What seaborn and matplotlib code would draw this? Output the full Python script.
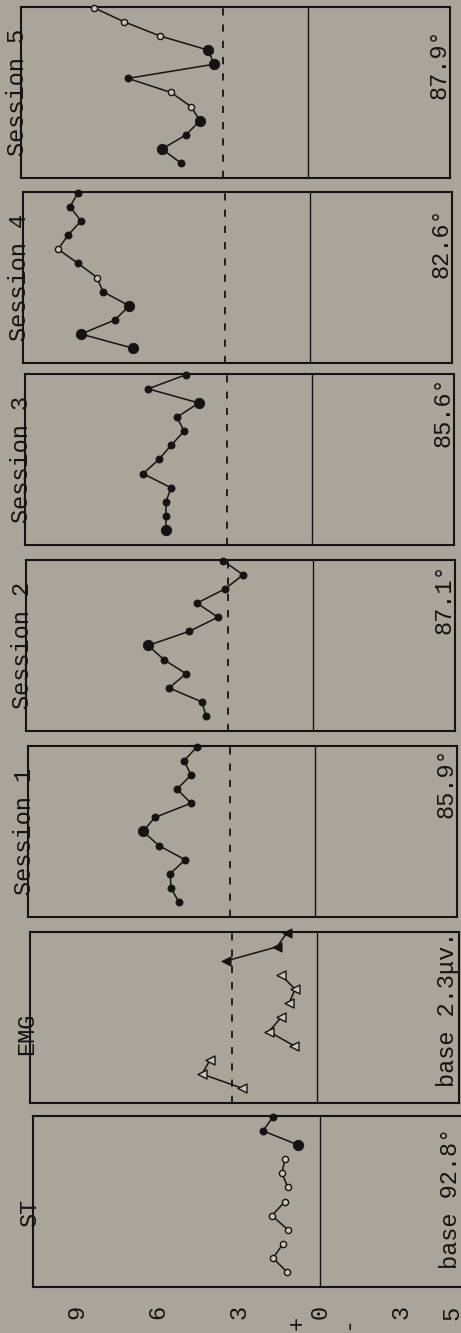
import matplotlib
matplotlib.use("Agg")
import matplotlib.pyplot as plt
import pandas as pd
import seaborn as sns

# ---------------------------------------------------------------- data
trial = list(range(1, 13))

st_values = [1.22, 1.74, 1.37, 1.19, 1.78, 1.30, 1.19, 1.41, 1.30, 0.81, 2.11, 1.74]
st_kind = ["open"] * 9 + ["heavy", "solid", "solid"]
st_block = [1, 1, 1, 2, 2, 2, 3, 3, 3, 4, 4, 4]

emg_values = [2.78, 4.26, 3.96, 0.85, 1.78, 1.33, 1.04, 0.81, 1.33, 3.37, 1.48, 1.11]
emg_kind = ["open"] * 9 + ["solid"] * 3
emg_block = [1, 1, 1, 2, 2, 2, 3, 3, 3, 4, 4, 4]

s1_values = [5.04, 5.33, 5.37, 4.81, 5.78, 6.37, 5.93, 4.59, 5.11, 4.59, 4.85, 4.37]
s1_kind = ["solid"] * 5 + ["heavy"] + ["solid"] * 6

s2_values = [3.96, 4.11, 5.33, 4.70, 5.52, 6.11, 4.59, 3.52, 4.30, 3.26, 2.59, 3.33]
s2_kind = ["solid"] * 5 + ["heavy"] + ["solid"] * 6

s3_values = [5.41, 5.41, 5.41, 5.22, 6.26, 5.67, 5.22, 4.74, 5.00, 4.19, 6.07, 4.67]
s3_kind = ["heavy"] + ["solid"] * 8 + ["heavy", "solid", "solid"]

s4_values = [6.56, 8.48, 7.22, 6.70, 7.67, 7.89, 8.59, 9.33, 8.96, 8.48, 8.89, 8.59]
s4_kind = ["heavy", "heavy", "solid", "heavy", "solid", "open",
           "solid", "open", "solid", "solid", "solid", "solid"]

s5_values = [4.70, 5.41, 4.52, 4.00, 4.33, 5.07, 6.67, 3.48, 3.70, 5.48, 6.81, 7.93]
s5_kind = ["solid", "heavy", "solid", "heavy", "open", "open",
           "solid", "heavy", "heavy", "open", "open", "open"]

session_block = [1] * 12

panel_names = ["Session 5", "Session 4", "Session 3", "Session 2", "Session 1", "EMG", "ST"]
base_labels = ["87.9°", "82.6°", "85.6°", "87.1°", "85.9°", "base 2.3μv.", "base 92.8°"]
panel_values = [s5_values, s4_values, s3_values, s2_values, s1_values, emg_values, st_values]
panel_kinds = [s5_kind, s4_kind, s3_kind, s2_kind, s1_kind, emg_kind, st_kind]
panel_blocks = [session_block] * 5 + [emg_block, st_block]

criterion = 3.15
tick_values = [9, 6, 3, 0, -3]
tick_labels = ["9", "6", "3", "0", "3"]

# ---------------------------------------------------------------- layout
W, H, DPI = 461, 1333, 100
BG = "#a9a59b"
INK = "#141414"
PX_PER_UNIT = 27.0
panel_tops = [7, 192, 374, 560, 746, 932, 1116]
zero_x = [308, 310, 312, 313, 315, 317, 320]
panel_h = 171
left_span, right_span = 287, 142
label_end_px = [21, 15, 2, 3, 1, 0, 12]
name_shift_px = [0, 0, 0, 0, 0, 16, 11]

sns.set_style("white")
plt.rcParams["font.family"] = ["Liberation Mono", "DejaVu Sans"]
plt.rcParams["axes.linewidth"] = 1.5

FS = 17

fig = plt.figure(figsize=(W / DPI, H / DPI), dpi=DPI, facecolor=BG)

point_style = {
    "open": dict(s=20, facecolor="#c9c5bb", linewidth=1.0),
    "solid": dict(s=26, facecolor=INK, linewidth=0.6),
    "heavy": dict(s=56, facecolor=INK, linewidth=0.6),
}
tri_style = {
    "open": dict(s=42, facecolor="#c9c5bb", linewidth=1.0),
    "solid": dict(s=42, facecolor=INK, linewidth=0.8),
}

for i, name in enumerate(panel_names):
    top = panel_tops[i]
    x0 = zero_x[i]
    left_px = x0 - left_span
    width_px = left_span + right_span
    ax = fig.add_axes([left_px / W, 1 - (top + panel_h) / H, width_px / W, panel_h / H])
    ax.set_facecolor(BG)

    df = pd.DataFrame({
        "value": panel_values[i],
        "trial": trial,
        "block": panel_blocks[i],
        "kind": panel_kinds[i],
    })

    # reference lines: zero and criterion
    ax.axvline(0, color=INK, lw=1.0, zorder=1)
    if name != "ST":
        ax.axvline(criterion, color=INK, lw=1.3, ls=(0, (4, 5)), zorder=1)

    sns.lineplot(data=df, x="value", y="trial", units="block", estimator=None,
                 sort=False, orient="y", color=INK, lw=1.1, ax=ax, zorder=2)

    is_emg = name == "EMG"
    styles = tri_style if is_emg else point_style
    marker = "<" if is_emg else "o"
    for kind, sty in styles.items():
        sub = df[df["kind"] == kind]
        if sub.empty:
            continue
        sns.scatterplot(data=sub, x="value", y="trial", marker=marker,
                        edgecolor=INK, ax=ax, zorder=3, clip_on=False, **sty)

    ax.set_xlim(left_span / PX_PER_UNIT, -right_span / PX_PER_UNIT)
    ax.set_ylim(-0.05, 12.05)
    ax.set_xlabel("")
    ax.set_ylabel("")
    ax.set_yticks([])
    for sp in ax.spines.values():
        sp.set_color(INK)
        sp.set_linewidth(1.5)

    if name == "ST":
        ax.set_xticks(tick_values)
        ax.set_xticklabels(tick_labels, rotation=90, fontsize=FS, color=INK)
        ax.tick_params(axis="x", direction="out", length=3.6, width=1.0,
                       color=INK, pad=9)
    else:
        ax.set_xticks([])

    # panel title along the left edge
    ax.text(8 / width_px, 0.5 - name_shift_px[i] / panel_h, name, transform=ax.transAxes,
            rotation=90, ha="right", va="center", fontsize=FS, color=INK)
    # base value along the right edge
    ax.text(1.0, 1 - label_end_px[i] / panel_h, base_labels[i], transform=ax.transAxes,
            rotation=90, ha="right", va="top", fontsize=FS, color=INK)

# sign markers under the value scale
fig.text(297 / W, 1 - 1323 / H, "+", rotation=90, ha="center", va="center",
         fontsize=FS, color=INK)
fig.text(347 / W, 1 - 1323 / H, "-", rotation=90, ha="center", va="center",
         fontsize=FS, color=INK)
fig.text(452 / W, 1 - 1313 / H, "5", rotation=90, ha="center", va="center",
         fontsize=FS, color=INK)

fig.savefig("out.png", dpi=DPI, facecolor=BG)
